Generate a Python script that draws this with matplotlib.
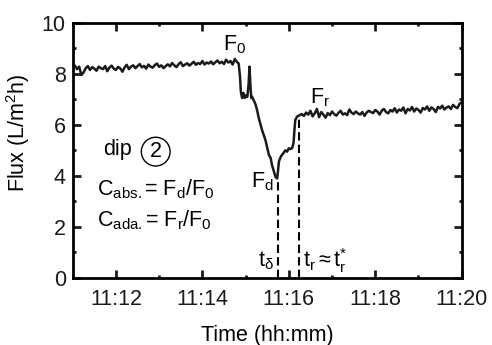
import numpy as np
import matplotlib
matplotlib.use("Agg")
import matplotlib.pyplot as plt
from matplotlib.ticker import MultipleLocator, FuncFormatter

plt.rcParams['font.family'] = ['Liberation Sans', 'DejaVu Sans']
plt.rcParams['mathtext.fontset'] = 'custom'
plt.rcParams['mathtext.rm'] = 'Liberation Sans'
plt.rcParams['mathtext.it'] = 'Liberation Sans'
plt.rcParams['mathtext.bf'] = 'Liberation Sans:bold'

# time in minutes after 11:00
# baseline before the dip, one sample every 0.05 min from 11:11
base_start = 11.0
base_flux = [8.25, 8.32, 8.18, 8.28, 7.95, 8.05, 8.22, 8.30, 8.15, 8.26,
             8.20, 8.12, 8.28, 8.22, 8.18, 8.30, 8.10, 8.24, 8.32, 8.20,
             8.15, 8.27, 8.21, 8.08, 8.25, 8.35, 8.18, 8.28, 8.33, 8.22,
             8.30, 8.38, 8.25, 8.31, 8.20, 8.36, 8.28, 8.24, 8.34, 8.40,
             8.27, 8.33, 8.22, 8.30, 8.37, 8.29, 8.42, 8.33, 8.26, 8.38,
             8.45, 8.30, 8.36, 8.41, 8.32, 8.39, 8.47, 8.35, 8.42, 8.38,
             8.50, 8.36, 8.44, 8.40, 8.48, 8.37, 8.45, 8.52, 8.41, 8.47,
             8.38, 8.55, 8.44, 8.50, 8.36, 8.58, 8.46]

# the dip itself
dip_time = [14.84, 14.87, 14.89, 14.92, 14.95, 14.98, 15.01, 15.04, 15.07, 15.09,
            15.11, 15.13, 15.15, 15.19, 15.23, 15.27, 15.30, 15.34, 15.38, 15.42,
            15.46, 15.50, 15.54, 15.58, 15.61, 15.65, 15.69, 15.73, 15.75, 15.77,
            15.80, 15.84, 15.88, 15.92, 15.96, 16.00, 16.04, 16.08, 16.11, 16.13,
            16.15, 16.19]
dip_flux = [8.40, 7.90, 7.30, 7.05, 7.25, 7.05, 7.15, 7.10, 7.60, 8.28,
            7.60, 7.05, 7.10, 6.95, 6.80, 6.55, 6.30, 6.05, 5.80, 5.60,
            5.40, 5.10, 4.82, 4.70, 4.43, 4.20, 3.97, 3.90, 4.20, 4.55,
            4.70, 4.82, 4.90, 5.00, 4.95, 5.08, 5.05, 5.10, 5.30, 5.80,
            6.19, 6.32]

# recovered plateau, one sample every 0.05 min
rec_start = 16.25
rec_flux = [6.38, 6.42, 6.35, 6.48, 6.40, 6.55, 6.33, 6.45, 6.62, 6.30,
            6.50, 6.40, 6.28, 6.46, 6.38, 6.52, 6.42, 6.36, 6.47, 6.55,
            6.40, 6.45, 6.38, 6.60, 6.48, 6.42, 6.52, 6.45, 6.40, 6.50,
            6.35, 6.48, 6.55, 6.50, 6.46, 6.58, 6.52, 6.40, 6.55, 6.62,
            6.50, 6.45, 6.58, 6.52, 6.65, 6.48, 6.60, 6.55, 6.68, 6.45,
            6.62, 6.56, 6.70, 6.52, 6.64, 6.58, 6.48, 6.66, 6.60, 6.72,
            6.55, 6.68, 6.62, 6.50, 6.70, 6.64, 6.75, 6.60, 6.68, 6.72,
            6.62, 6.78, 6.70, 6.65, 6.82, 6.88]

# markers
t_delta, F_d = 15.74, 3.90
t_r, F_r_level = 16.23, 6.22

base_time = base_start + 0.05 * np.arange(len(base_flux))
rec_time = rec_start + 0.05 * np.arange(len(rec_flux))
time = np.concatenate([base_time, dip_time, rec_time])
flux = np.concatenate([base_flux, dip_flux, rec_flux])

fs = 15.5

fig = plt.figure(figsize=(4.92, 3.45), dpi=100)
ax = fig.add_axes([0.1478, 0.1942, 0.7906, 0.74])

ax.plot(time, flux, color='#1a1a1a', lw=1.8)
ax.plot([t_delta, t_delta], [0, F_d], color='k', lw=1.5, dashes=(4, 2))
ax.plot([t_r, t_r], [0, F_r_level], color='k', lw=1.5, dashes=(4, 2))

ax.set_xlim(11, 20)
ax.set_ylim(0, 10)
ax.xaxis.set_major_locator(MultipleLocator(2))
ax.xaxis.set_minor_locator(MultipleLocator(1))
ax.yaxis.set_major_locator(MultipleLocator(2))
ax.yaxis.set_minor_locator(MultipleLocator(1))
ax.xaxis.set_major_formatter(FuncFormatter(lambda v, p: "11:%02d" % int(round(v))))

for s in ax.spines.values():
    s.set_linewidth(2.0)
ax.tick_params(which='both', direction='in', top=True, right=True,
               labelsize=fs, width=2.0, colors='#1a1a1a')
ax.tick_params(which='major', length=5.5)
ax.tick_params(which='minor', length=2.5)
ax.tick_params(axis='y', pad=5)
ax.tick_params(axis='x', pad=8)

ax.set_xlabel("Time (hh:mm)", fontsize=fs, labelpad=11)
ax.set_ylabel("Flux (L/m$^2$h)", fontsize=fs)
ax.yaxis.set_label_coords(-0.105, 0.57)

ax.text(14.48, 8.93, r"F$_\mathrm{0}$", fontsize=fs)
ax.text(15.12, 3.53, r"F$_\mathrm{d}$", fontsize=fs)
ax.text(16.48, 6.85, r"F$_\mathrm{r}$", fontsize=fs)
ax.text(15.28, 0.44, r"t$_\mathrm{\delta}$", fontsize=fs)
ax.text(16.32, 0.44, r"t$_\mathrm{r}$$\approx$t$_\mathrm{r}^{*}$", fontsize=fs)
ax.text(11.70, 4.82, "dip", fontsize=fs)
ax.text(12.92, 4.95, "2", fontsize=fs, ha='center', va='center',
        bbox=dict(boxstyle='circle,pad=0.18', fc='none', ec='k', lw=1.0))
ax.text(11.56, 3.25, r"C$_\mathrm{abs.}$= F$_\mathrm{d}$/F$_\mathrm{0}$", fontsize=fs)
ax.text(11.56, 2.01, r"C$_\mathrm{ada.}$= F$_\mathrm{r}$/F$_\mathrm{0}$", fontsize=fs)

fig.savefig("out.png", dpi=100)
